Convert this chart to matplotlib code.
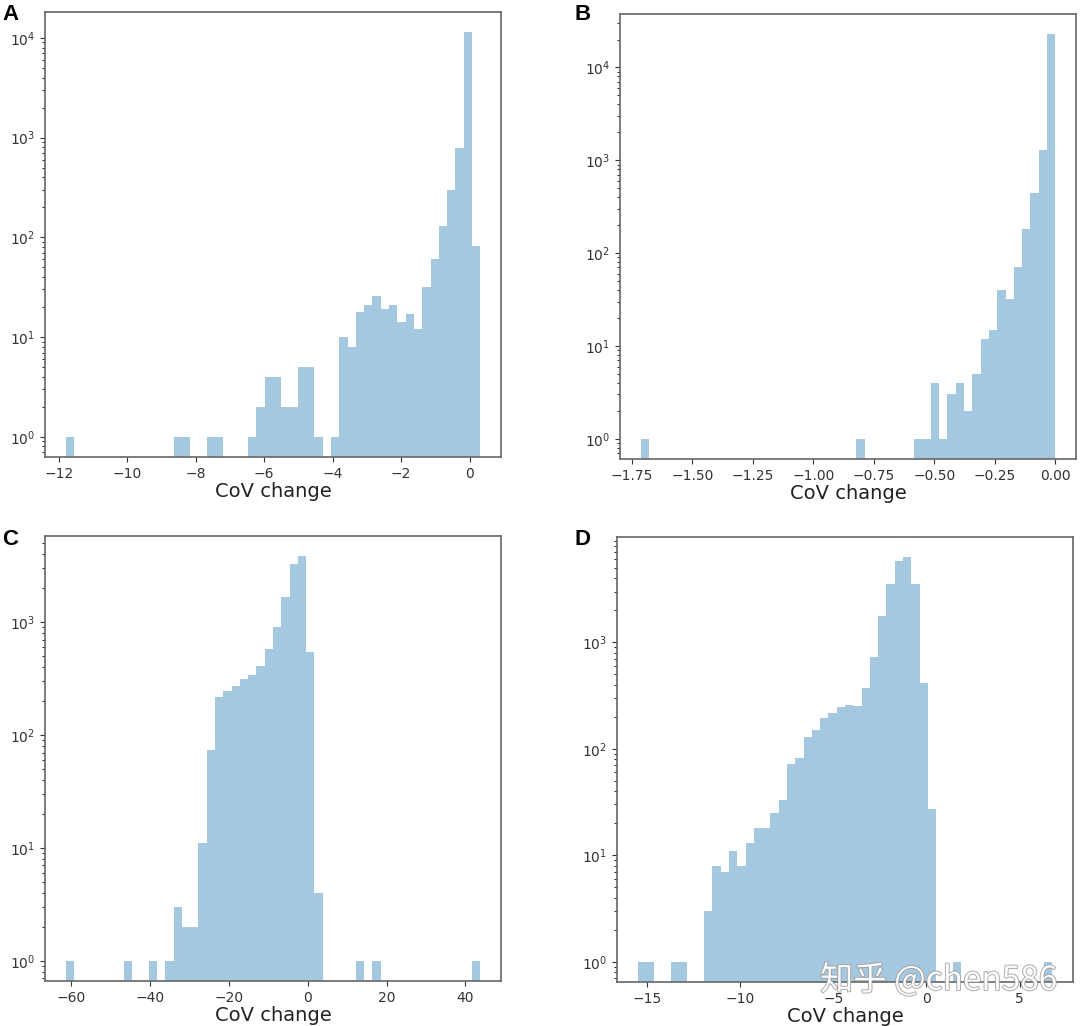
#
# CoV change histograms, four panels, log counts
#

import numpy as np
import matplotlib
matplotlib.use('Agg')
from matplotlib import pyplot as plt
from matplotlib import patheffects as pe

TICK_SIZE = 10
LABEL_SIZE = 14
PANEL_SIZE = 16

# bin ranges (50 bins each) and counts
rangeA = (-11.80, 0.31)
countsA = [1, 0, 0, 0, 0, 0, 0, 0, 0, 0,
           0, 0, 0, 1, 1, 0, 0, 1, 1, 0,
           0, 0, 1, 2, 4, 4, 2, 2, 5, 5,
           1, 0, 1, 10, 8, 18, 21, 26, 19, 21,
           14, 17, 12, 32, 61, 130, 300, 790, 11400, 81]
ticksA = [-12, -10, -8, -6, -4, -2, 0]

rangeB = (-1.714, 0.0)
countsB = [1, 0, 0, 0, 0, 0, 0, 0, 0, 0,
           0, 0, 0, 0, 0, 0, 0, 0, 0, 0,
           0, 0, 0, 0, 0, 0, 1, 0, 0, 0,
           0, 0, 0, 1, 1, 4, 1, 3, 4, 2,
           5, 12, 15, 40, 32, 71, 184, 446, 1290, 22800]
ticksB = [-1.75, -1.50, -1.25, -1.00, -0.75, -0.50, -0.25, 0.00]

rangeC = (-61.45, 43.8)
countsC = [1, 0, 0, 0, 0, 0, 0, 1, 0, 0,
           1, 0, 1, 3, 2, 2, 11, 74, 217, 246,
           270, 314, 338, 406, 580, 908, 1660, 3310, 3850, 540,
           4, 0, 0, 0, 0, 1, 0, 1, 0, 0,
           0, 0, 0, 0, 0, 0, 0, 0, 0, 1]
ticksC = [-60, -40, -20, 0, 20, 40]

rangeD = (-15.52, 6.76)
countsD = [1, 1, 0, 0, 1, 1, 0, 0, 3, 8,
           7, 11, 8, 13, 18, 18, 25, 33, 72, 82,
           130, 150, 193, 218, 246, 257, 250, 374, 731, 1760,
           3560, 5860, 6300, 3560, 417, 27, 0, 0, 1, 0,
           0, 0, 0, 0, 0, 0, 0, 0, 0, 1]
ticksD = [-15, -10, -5, 0, 5]

panels = ['A', 'B', 'C', 'D']


def histPanel(ax, rng, counts, ticks, tickfmt):
    edges = np.linspace(rng[0], rng[1], len(counts) + 1)
    ax.hist(edges[:-1], bins=edges, weights=counts, color='C0', alpha=0.4, log=True)
    ax.set_xticks(ticks)
    ax.set_xticklabels([tickfmt.format(t).replace('-', '\u2212') for t in ticks])
    ax.set_xlabel('CoV change', fontsize=LABEL_SIZE, color='#222222', labelpad=1)
    ax.tick_params(labelsize=TICK_SIZE, colors='#333333')
    for sp in ax.spines.values():
        sp.set_color('#666666')
        sp.set_linewidth(1.2)


fig = plt.figure(figsize=(10.8, 10.26), dpi=100)
W, H = 1080.0, 1026.0
# axes boxes in pixels: left, top, right, bottom
boxes = [(45, 12, 501, 457), (620, 14, 1076, 459),
         (45, 536, 501, 981), (617, 537, 1073, 982)]
letterpos = [(2, 20), (575, 20), (2, 545), (575, 545)]

data = [(rangeA, countsA, ticksA, '{:d}'),
        (rangeB, countsB, ticksB, '{:.2f}'),
        (rangeC, countsC, ticksC, '{:d}'),
        (rangeD, countsD, ticksD, '{:d}')]

for i, (rng, cnt, tks, fmt) in enumerate(data):
    l, t, r, b = boxes[i]
    ax = fig.add_axes([l / W, 1 - b / H, (r - l) / W, (b - t) / H])
    histPanel(ax, rng, cnt, tks, fmt)
    lx, ly = letterpos[i]
    fig.text(lx / W, 1 - ly / H, panels[i], fontsize=PANEL_SIZE, fontweight='bold',
             family='Liberation Sans', ha='left', va='baseline')

# watermark from the source image
fig.text(820 / W, 1 - 990 / H, '知乎 @chen586', fontsize=24, color='white',
         family=['Noto Sans CJK SC', 'DejaVu Sans'], ha='left', va='baseline',
         alpha=0.9, zorder=10,
         path_effects=[pe.withStroke(linewidth=1.2, foreground='#9a9a9a')])

plt.savefig('out.png', dpi=100)
